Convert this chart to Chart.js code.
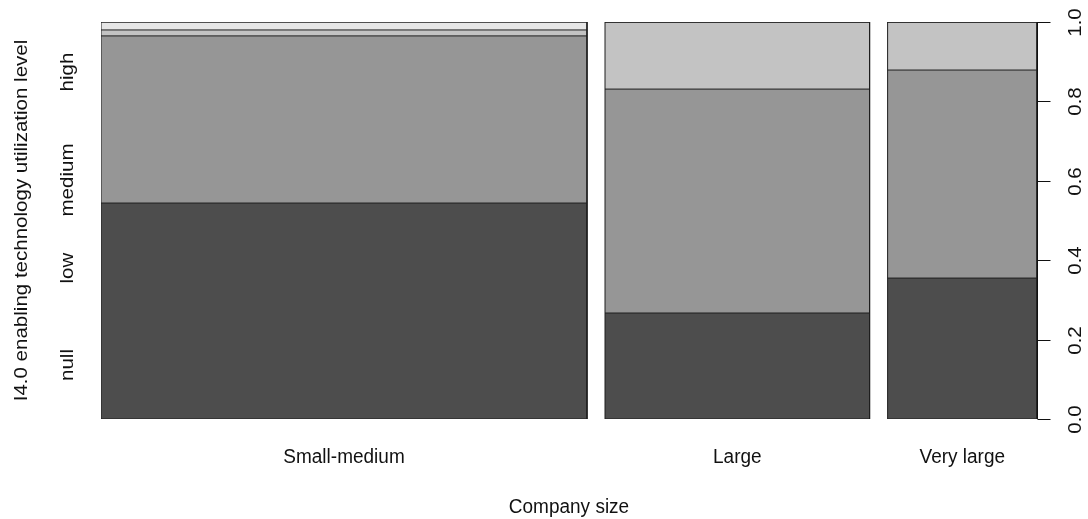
<!DOCTYPE html>
<html>
<head>
<meta charset="utf-8">
<script src="https://cdn.jsdelivr.net/npm/chart.js@4.4.1/dist/chart.umd.min.js"></script>
<style>
  html, body { margin: 0; padding: 0; background: #ffffff; }
  #wrap { position: relative; width: 1088px; height: 519px; }
</style>
</head>
<body>
<div id="wrap"><canvas id="spine"></canvas></div>
<script>
// Company size groups and their share of all firms (column widths)
const categories = ['Small-medium', 'Large', 'Very large'];
const columnShares = [0.540, 0.294, 0.166];

// Utilization levels, stacked bottom to top, and their share within each group
const levels = ['null', 'low', 'medium', 'high'];
const nullShare = [0.544, 0.267, 0.355];
const lowShare = [0.421, 0.564, 0.524];
const mediumShare = [0.015, 0.169, 0.121];
const highShare = [0.020, 0.000, 0.000];

// Right-hand axis ticks
const yTicks = [0, 0.2, 0.4, 0.6, 0.8, 1.0];
const yTickLabels = ['0.0', '0.2', '0.4', '0.6', '0.8', '1.0'];

// Where the level names sit along the left side
const levelLabelAt = [0.136, 0.38, 0.602, 0.874];

const levelColors = ['#4D4D4D', '#969696', '#C3C3C3', '#E6E6E6'];
const edgeColor = '#1e1e1e';
const gap = 0.02;
const font = '"Liberation Sans", Arial, sans-serif';
const stretch = 1.08; // glyphs are drawn slightly taller than wide

const shareByLevel = [nullShare, lowShare, mediumShare, highShare];

// Horizontal extent of each column on the 0..(1 + gaps) axis
const columnLeft = [];
let acc = 0;
columnShares.forEach((w) => { columnLeft.push(acc); acc += w + gap; });
const xMax = acc - gap;

const datasets = [];
categories.forEach((cat, c) => {
  const x0 = columnLeft[c];
  const x1 = x0 + columnShares[c];
  let bottom = 0;
  levels.forEach((lev, k) => {
    const top = Math.min(1, bottom + shareByLevel[k][c]);
    datasets.push({
      label: cat + ' – ' + lev,
      data: [{ x: x0, y: top }, { x: x1, y: top }],
      showLine: true,
      fill: { value: bottom },
      backgroundColor: levelColors[k],
      borderColor: edgeColor,
      borderWidth: 1,
      pointRadius: 0,
      pointHoverRadius: 0
    });
    bottom = top;
  });
  // outline of the column
  datasets.push({
    label: cat,
    data: [{ x: x0, y: 0 }, { x: x0, y: 1 }, { x: x1, y: 1 }, { x: x1, y: 0 }, { x: x0, y: 0 }],
    showLine: true,
    fill: false,
    borderColor: edgeColor,
    borderWidth: 1,
    pointRadius: 0,
    pointHoverRadius: 0
  });
});

function label(ctx, text, x, y, vertical) {
  ctx.save();
  ctx.translate(x, y);
  if (vertical) {
    ctx.rotate(-Math.PI / 2);
    ctx.scale(stretch, 1);
  } else {
    ctx.scale(1, stretch);
  }
  ctx.fillText(text, 0, 0);
  ctx.restore();
}

const annotate = {
  id: 'annotate',
  afterDraw(chart) {
    const ctx = chart.ctx;
    const xs = chart.scales.x;
    const ys = chart.scales.y;
    ctx.save();
    ctx.fillStyle = '#111';
    ctx.strokeStyle = '#111';
    ctx.lineWidth = 1;
    ctx.font = '19px ' + font;
    ctx.textAlign = 'center';
    ctx.textBaseline = 'middle';

    // right axis
    const ax = Math.round(xs.getPixelForValue(xMax)) + 0.5;
    ctx.beginPath();
    ctx.moveTo(ax, ys.getPixelForValue(0));
    ctx.lineTo(ax, ys.getPixelForValue(1));
    ctx.stroke();
    yTicks.forEach((v, i) => {
      const py = Math.round(ys.getPixelForValue(v)) + 0.5;
      ctx.beginPath();
      ctx.moveTo(ax, py);
      ctx.lineTo(ax + 13, py);
      ctx.stroke();
      label(ctx, yTickLabels[i], ax + 38, py, true);
    });

    // column names
    categories.forEach((cat, c) => {
      const mid = columnLeft[c] + columnShares[c] / 2;
      label(ctx, cat, xs.getPixelForValue(mid), 457, false);
    });

    // level names on the left
    levels.forEach((lev, k) => {
      label(ctx, lev, 68, ys.getPixelForValue(levelLabelAt[k]), true);
    });

    // axis titles
    label(ctx, 'Company size', (xs.left + xs.right) / 2, 507, false);
    label(ctx, 'I4.0 enabling technology utilization level', 22, (ys.top + ys.bottom) / 2, true);
    ctx.restore();
  }
};

new Chart(document.getElementById('spine'), {
  type: 'scatter',
  data: { datasets },
  options: {
    responsive: true,
    maintainAspectRatio: false,
    animation: false,
    layout: { padding: { left: 101, top: 22, right: 51, bottom: 100 } },
    scales: {
      x: { type: 'linear', min: 0, max: xMax, display: false },
      y: { type: 'linear', min: 0, max: 1, display: false }
    },
    plugins: {
      legend: { display: false },
      tooltip: { enabled: false },
      filler: { drawTime: 'beforeDatasetsDraw' }
    },
    events: []
  },
  plugins: [annotate]
});
</script>
</body>
</html>
